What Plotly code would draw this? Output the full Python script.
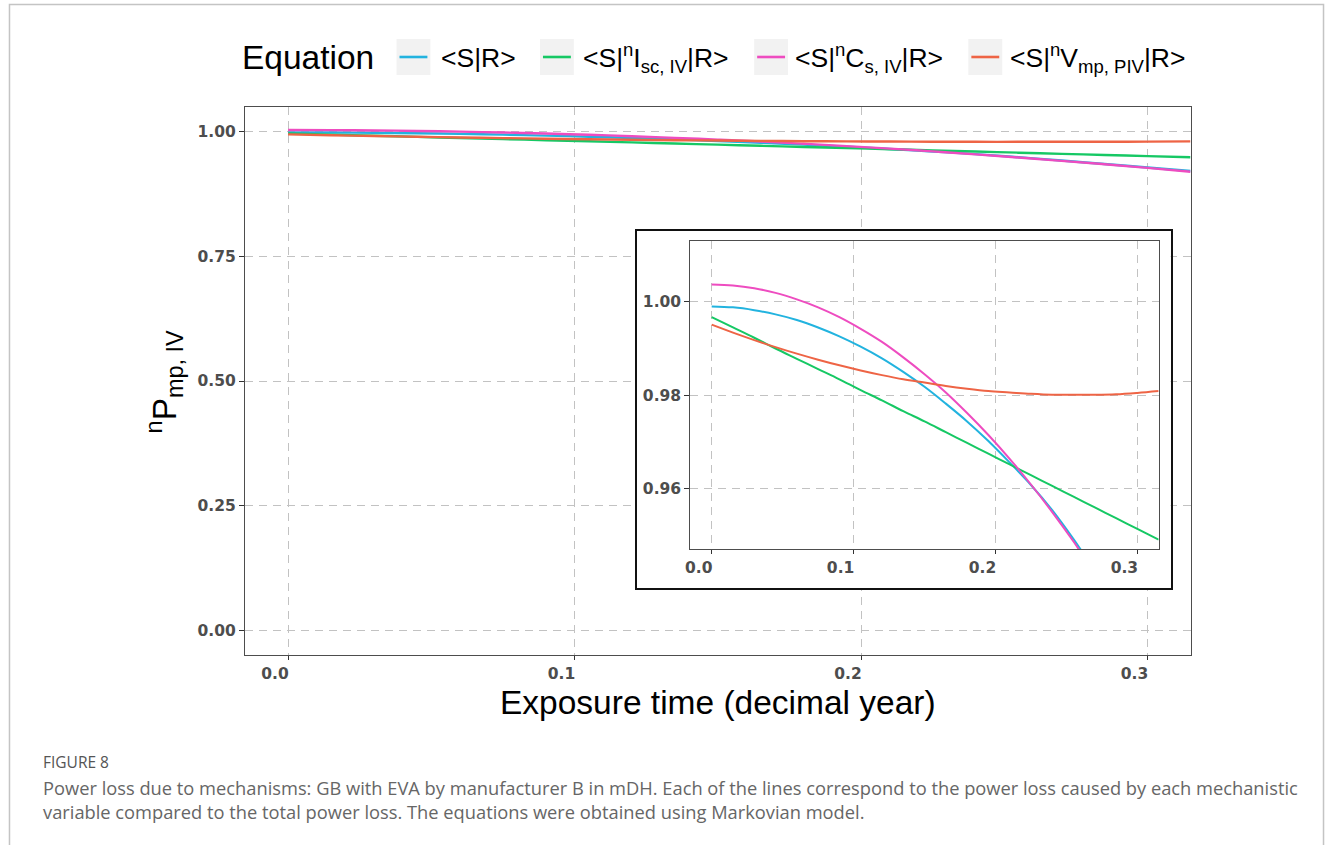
import plotly.graph_objects as go

W, H = 1328, 845

# ---- data ----
x_time = [0.0, 0.015, 0.03, 0.045, 0.06, 0.075, 0.09, 0.105, 0.12, 0.135, 0.15,
          0.165, 0.18, 0.195, 0.21, 0.225, 0.24, 0.255, 0.27, 0.285, 0.30, 0.315]
s_r = [0.9990, 0.9988, 0.9982, 0.9973, 0.9961, 0.9945, 0.9926, 0.9904, 0.9879, 0.9850, 0.9818,
       0.9782, 0.9744, 0.9702, 0.9656, 0.9608, 0.9554, 0.9492, 0.9425, 0.9356, 0.9285, 0.9215]
s_isc = [0.9967, 0.9945, 0.9923, 0.9900, 0.9878, 0.9856, 0.9834, 0.9811, 0.9789, 0.9766, 0.9744,
         0.9721, 0.9698, 0.9675, 0.9652, 0.9629, 0.9606, 0.9583, 0.9560, 0.9537, 0.9514, 0.9491]
s_cs = [1.0037, 1.0035, 1.0029, 1.0019, 1.0005, 0.9988, 0.9967, 0.9942, 0.9914, 0.9881, 0.9845,
        0.9806, 0.9762, 0.9715, 0.9664, 0.9609, 0.9550, 0.9487, 0.9419, 0.9352, 0.9278, 0.9200]
s_vmp = [0.9951, 0.9934, 0.9918, 0.9903, 0.9889, 0.9876, 0.9864, 0.9853, 0.9843, 0.9834, 0.9827,
         0.9820, 0.9814, 0.9809, 0.9806, 0.9803, 0.9801, 0.9801, 0.9801, 0.9802, 0.9805, 0.9809]

series_names = ["<S|R>", "<S|<sup>n</sup>I<sub>sc, IV</sub>|R>",
                "<S|<sup>n</sup>C<sub>s, IV</sub>|R>", "<S|<sup>n</sup>V<sub>mp, PIV</sub>|R>"]
series_vals = [s_r, s_isc, s_cs, s_vmp]
series_colors = ["#22B3DF", "#16C864", "#EE4CC0", "#EE6445"]

main_xticks = [0.0, 0.1, 0.2, 0.3]
main_xticktext = ["0.0", "0.1", "0.2", "0.3"]
main_yticks = [0.0, 0.25, 0.5, 0.75, 1.0]
main_yticktext = ["0.00", "0.25", "0.50", "0.75", "1.00"]
inset_yticks = [0.96, 0.98, 1.00]
inset_yticktext = ["0.96", "0.98", "1.00"]

caption_title = "FIGURE 8"
caption_l1 = ("Power loss due to mechanisms: GB with EVA by manufacturer B in mDH. Each of the lines "
              "correspond to the power loss caused by each mechanistic")
caption_l2 = "variable compared to the total power loss. The equations were obtained using Markovian model."


def px(x):
    return x / W


def py(y):
    return 1 - y / H


fig = go.Figure()

for name, vals, col in zip(series_names, series_vals, series_colors):
    fig.add_trace(go.Scatter(x=x_time, y=vals, mode="lines", name=name, showlegend=False,
                             line=dict(color=col, width=2.4, shape="spline"),
                             xaxis="x", yaxis="y"))
# cover subplot for the inset box
fig.add_trace(go.Scatter(x=[None], y=[None], mode="lines", showlegend=False,
                         hoverinfo="skip", xaxis="x2", yaxis="y2"))
for name, vals, col in zip(series_names, series_vals, series_colors):
    fig.add_trace(go.Scatter(x=x_time, y=vals, mode="lines", name=name, showlegend=False,
                             line=dict(color=col, width=2.0, shape="spline"),
                             xaxis="x3", yaxis="y3"))

tickfont = dict(family="DejaVu Sans", size=15.5, color="#4D4D4D", weight="bold")
grid = dict(showgrid=True, gridcolor="#C2C2C2", gridwidth=1.4, griddash="8px,6px",
            zeroline=False, showline=True, mirror=True, linecolor="#4D4D4D", linewidth=1.4,
            ticks="outside", tickcolor="#333333", tickwidth=1.3, tickfont=tickfont,
            fixedrange=True)

fig.update_layout(
    width=W, height=H,
    margin=dict(l=0, r=0, t=0, b=0),
    paper_bgcolor="white", plot_bgcolor="white",
    showlegend=False,
    xaxis=dict(domain=[px(241), px(1190)], range=[-0.015, 0.315], anchor="y",
               tickvals=main_xticks, ticktext=main_xticktext, ticklen=4,
               ticklabelshift=-13, **grid),
    yaxis=dict(domain=[py(655), py(107)], range=[-0.05, 1.05], anchor="x",
               tickvals=main_yticks, ticktext=main_yticktext, ticklen=5, **grid),
    xaxis2=dict(domain=[px(634), px(1170)], range=[0, 1], anchor="y2", showgrid=False,
                zeroline=False, showticklabels=False, ticks="", showline=True, mirror=True,
                linecolor="#111111", linewidth=2, fixedrange=True),
    yaxis2=dict(domain=[py(588), py(231)], range=[0, 1], anchor="x2", showgrid=False,
                zeroline=False, showticklabels=False, ticks="", showline=True, mirror=True,
                linecolor="#111111", linewidth=2, fixedrange=True),
    xaxis3=dict(domain=[px(688), px(1158)], range=[-0.015, 0.315], anchor="y3",
                tickvals=main_xticks, ticktext=main_xticktext, ticklen=4,
                ticklabelshift=-13, **grid),
    yaxis3=dict(domain=[py(549), py(241)], range=[0.9471, 1.013], anchor="x3",
                tickvals=inset_yticks, ticktext=inset_yticktext, ticklen=5, **grid),
)

shapes = []
# outer frame
shapes.append(dict(type="rect", xref="paper", yref="paper", x0=px(4.5), x1=px(1323.5),
                   y0=-0.02, y1=py(4.5), line=dict(color="#C4C4C4", width=1.5),
                   fillcolor="rgba(0,0,0,0)", layer="below"))
annotations = []

title_font = dict(family="Liberation Sans", size=33.5, color="black")
annotations.append(dict(text="Equation", xref="paper", yref="paper", x=px(236), y=py(58),
                        xanchor="left", yanchor="middle", showarrow=False, font=title_font))

key_x = [393, 537, 752, 967]
text_x = [436, 578, 791, 1007]
for kx, tx, name, col in zip(key_x, text_x, series_names, series_colors):
    shapes.append(dict(type="rect", xref="paper", yref="paper", x0=px(kx), x1=px(kx + 34),
                       y0=py(75), y1=py(39), fillcolor="#F2F2F2", line=dict(width=0),
                       layer="below"))
    shapes.append(dict(type="line", xref="paper", yref="paper", x0=px(kx + 3), x1=px(kx + 31),
                       y0=py(57), y1=py(57), line=dict(color=col, width=2.6)))
    annotations.append(dict(text=name, xref="paper", yref="paper", x=px(tx), y=py(58),
                            xanchor="left", yanchor="middle", showarrow=False,
                            font=dict(family="Liberation Sans", size=26.5, color="black")))

annotations.append(dict(text="Exposure time (decimal year)", xref="paper", yref="paper",
                        x=px(716), y=py(702), xanchor="center", yanchor="middle",
                        showarrow=False, font=title_font))
annotations.append(dict(text="<sup>n</sup>P<sub>mp, IV</sub>", xref="paper", yref="paper",
                        x=px(160), y=py(381), xanchor="center", yanchor="middle",
                        textangle=-90, showarrow=False, font=title_font))

annotations.append(dict(text=caption_title, xref="paper", yref="paper", x=px(36), y=py(762),
                        xanchor="left", yanchor="middle", showarrow=False,
                        font=dict(family="Open Sans", size=15.5, color="#555555")))
annotations.append(dict(text=caption_l1, xref="paper", yref="paper", x=px(36), y=py(787),
                        xanchor="left", yanchor="middle", showarrow=False,
                        font=dict(family="Open Sans", size=18.3, color="#666666")))
annotations.append(dict(text=caption_l2, xref="paper", yref="paper", x=px(36), y=py(811),
                        xanchor="left", yanchor="middle", showarrow=False,
                        font=dict(family="Open Sans", size=18.3, color="#666666")))

fig.update_layout(shapes=shapes, annotations=annotations)
fig.write_html("out.html")
